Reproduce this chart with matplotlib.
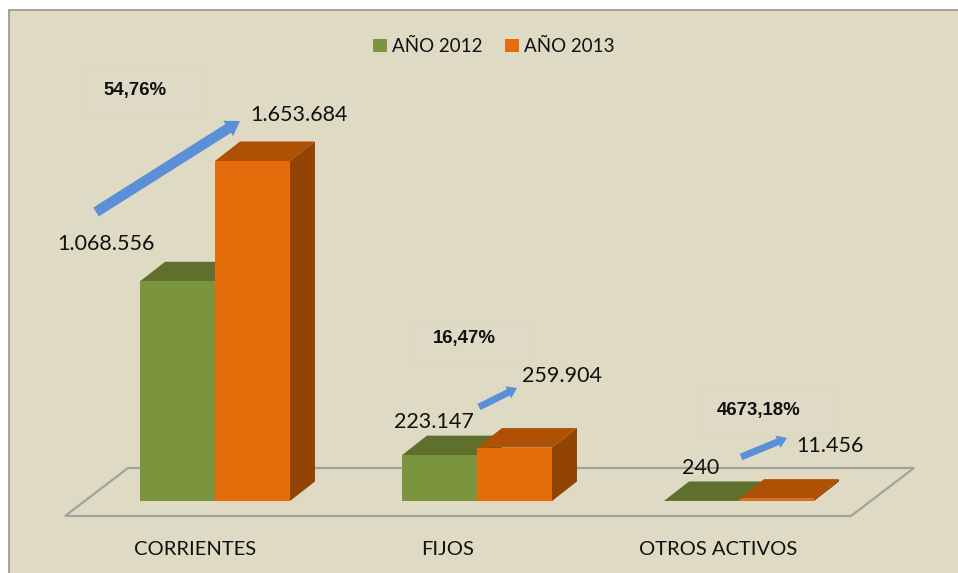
import matplotlib
matplotlib.use('Agg')
import matplotlib.pyplot as plt
from matplotlib.patches import Rectangle, Polygon
import numpy as np

categorias = ['CORRIENTES', 'FIJOS', 'OTROS ACTIVOS']
anio_2012 = [1068556, 223147, 240]
anio_2013 = [1653684, 259904, 11456]
etiquetas_2012 = ['1.068.556', '223.147', '240']
etiquetas_2013 = ['1.653.684', '259.904', '11.456']
variacion = ['54,76%', '16,47%', '4673,18%']

W, H = 958, 573
FONDO = '#dfdac3'
GRIS = '#a3a29b'
ancho = 75 / 262
dx = 25 / 262
dy = 19.5 * max(anio_2013) / 340


def fx(px):
    return px / W


def fy(py):
    return 1 - py / H


def caja3d(ax, x0, v, arriba, lado, z):
    # cara superior y lateral de la barra, la frontal la pone ax.bar
    ax.add_patch(Polygon([(x0, v), (x0 + dx, v + dy), (x0 + ancho + dx, v + dy), (x0 + ancho, v)],
                         fc=arriba, ec='none', clip_on=False, zorder=z))
    ax.add_patch(Polygon([(x0 + ancho, 0), (x0 + ancho + dx, dy), (x0 + ancho + dx, v + dy), (x0 + ancho, v)],
                         fc=lado, ec='none', clip_on=False, zorder=z))


plt.rcParams['font.family'] = ['Lato', 'DejaVu Sans']
fig = plt.figure(figsize=(W / 100, H / 100), dpi=100, facecolor='white')
fig.add_artist(Rectangle((fx(9), fy(H + 5)), fx(W + 5 - 9), (H + 5 - 10) / H, transform=fig.transFigure,
                         fc=FONDO, ec='#9c9c98', lw=1.3, zorder=-2))

ax = fig.add_axes([fx(65), fy(501), fx(914 - 65), (501 - 161) / H])
ax.set_xlim(-150 / 262, 699 / 262)
ax.set_ylim(0, max(anio_2013))
ax.patch.set_alpha(0)
for s in ax.spines.values():
    s.set_visible(False)

# piso del grafico
piso_y0 = -15 * max(anio_2013) / 340
piso_y1 = 33 * max(anio_2013) / 340
ax.add_patch(Polygon([(-150 / 262, piso_y0), (636 / 262, piso_y0), (699 / 262, piso_y1), (-87 / 262, piso_y1)],
                     closed=True, fc='none', ec=GRIS, lw=1.6, clip_on=False, zorder=1))

x = np.arange(len(categorias))
for i in x:
    caja3d(ax, i - ancho, anio_2012[i], '#5f6f2d', '#4f5e26', 1.2)
    ax.bar(i - ancho / 2, anio_2012[i], ancho, color='#7a953d', clip_on=False, zorder=1.5,
           label='AÑO 2012' if i == 0 else None)
    caja3d(ax, i, anio_2013[i], '#ae5105', '#914403', 2)
    ax.bar(i + ancho / 2, anio_2013[i], ancho, color='#e56c0a', clip_on=False, zorder=2.5,
           label='AÑO 2013' if i == 0 else None)

ax.set_xticks([-20 / 262, 233 / 262, 503 / 262])
ax.set_xticklabels(categorias, fontsize=14.5, color='#111111')
ax.tick_params(axis='x', length=0, pad=28.5)
ax.set_yticks([])

leg = ax.legend(loc='center', bbox_to_anchor=(fx(494), fy(46.5)), bbox_transform=fig.transFigure, ncol=2,
                frameon=False, fontsize=13.5, handlelength=0.72, handleheight=0.72,
                handletextpad=0.3, columnspacing=1.2, labelcolor='#111111')

# cajas tenues detras de los porcentajes
for (x0, y0, x1, y1) in [(83, 68, 203, 113), (413, 322, 533, 362), (697, 390, 835, 432)]:
    fig.add_artist(Rectangle((fx(x0), fy(y1)), (x1 - x0) / W, (y1 - y0) / H, transform=fig.transFigure,
                             fc='#dedac6', ec='#dcd8c2', lw=0.6, zorder=-1))

for txt, (px, py) in zip(variacion, [(135.5, 91), (464, 339), (759, 411)]):
    fig.text(fx(px), fy(py), txt, fontsize=13.4, fontweight='bold', family='Liberation Sans',
             ha='center', va='center', color='#111111')
for txt, (px, py) in zip(etiquetas_2012, [(106, 244), (434, 422), (701, 468)]):
    fig.text(fx(px), fy(py), txt, fontsize=15.5, ha='center', va='center', color='#111111', zorder=5)
for txt, (px, py) in zip(etiquetas_2013, [(299, 115), (562, 376), (830, 446)]):
    fig.text(fx(px), fy(py), txt, fontsize=15.5, ha='center', va='center', color='#111111', zorder=5)

# flechas azules de variacion
flechas = [((96, 212), (240, 121), 7.5, 13, 10), ((479, 407), (517, 388), 5, 9.5, 7), ((741, 457), (787, 438), 5, 9.5, 7)]
for ini, fin, w, hw, hl in flechas:
    ax.annotate('', xy=(fx(fin[0]), fy(fin[1])), xytext=(fx(ini[0]), fy(ini[1])),
                xycoords='figure fraction', textcoords='figure fraction',
                arrowprops=dict(width=w, headwidth=hw, headlength=hl, shrink=0, fc='#5b8fd8', ec='none'))

fig.savefig('out.png', dpi=100, facecolor='white')
